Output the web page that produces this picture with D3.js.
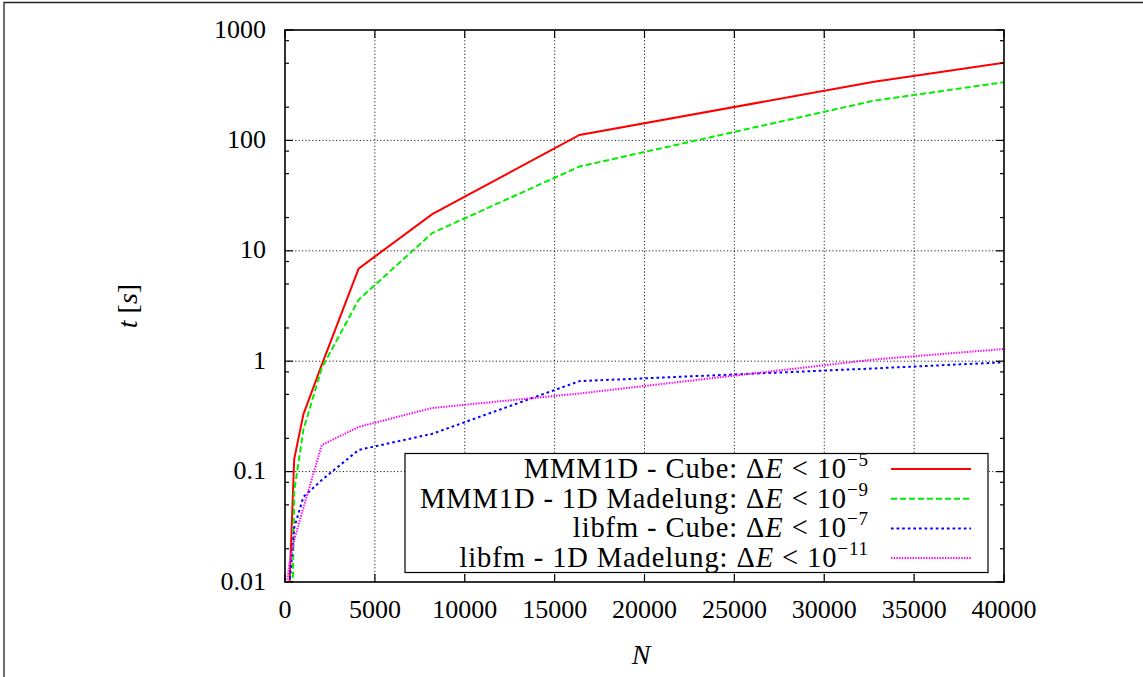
<!DOCTYPE html>
<html>
<head>
<meta charset="utf-8">
<script src="https://cdn.jsdelivr.net/npm/d3@7"></script>
<style>
  html, body { margin: 0; padding: 0; background: #fff; }
  svg { display: block; }
  text { font-family: "Liberation Serif", "Times New Roman", serif; fill: #000; }
</style>
</head>
<body>
<svg id="chart" width="1143" height="677"></svg>
<script>
// ---- data ----
const N = [128, 256, 512, 1024, 2048, 4096, 8192, 16384, 32768, 40000];
const mmmCube      = [null, 0.0098, 0.13, 0.33, 0.93, 6.9, 21.5, 112, 340, 506];
const mmmMadelung  = [null, 0.0001, 0.066, 0.24, 0.87, 3.6, 14.5, 58, 229, 336];
const libfmCube    = [null, 0.0095, 0.031, 0.059, 0.084, 0.157, 0.22, 0.66, 0.86, 0.977];
const libfmMadelung= [0.0105, 0.0149, 0.024, 0.047, 0.174, 0.254, 0.377, 0.51, 1.036, 1.29];

const xTicks = [0, 5000, 10000, 15000, 20000, 25000, 30000, 35000, 40000];
const yTicks = [0.01, 0.1, 1, 10, 100, 1000];
const yTickLabels = ["0.01", "0.1", "1", "10", "100", "1000"];
const yMinorFactors = [2, 5, 8];

const seriesNames = [
  {pre: "MMM1D - Cube: ", exp: "−5"},
  {pre: "MMM1D - 1D Madelung: ", exp: "−9"},
  {pre: "libfm - Cube: ", exp: "−7"},
  {pre: "libfm - 1D Madelung: ", exp: "−11"}
];
const seriesValues = [mmmCube, mmmMadelung, libfmCube, libfmMadelung];
const seriesColors = ["#ff0000", "#00ee00", "#0000ff", "#ff00ff"];
const seriesDash = [null, "6,3", "2.6,3", "1.4,1.3"];

// ---- layout ----
const svg = d3.select("#chart");
const L = 285, R = 1004, T = 30, B = 582;

const x = d3.scaleLinear().domain([0, 40000]).range([L, R]);
const y = d3.scaleLog().domain([0.01, 1000]).range([B, T]);

// outer frame (top & left visible)
svg.append("path").attr("d", `M4,677 L4,2.5 L1143,2.5`)
  .attr("fill", "none").attr("stroke", "#222").attr("stroke-width", 1.3);

// grid
const grid = svg.append("g");
xTicks.filter(v => v > 0 && v < 40000).forEach(v => {
  grid.append("line").attr("x1", x(v)).attr("x2", x(v)).attr("y1", T).attr("y2", B)
    .attr("stroke", "#222").attr("stroke-width", 1).attr("stroke-dasharray", "1.2,2.2");
});
yTicks.filter(v => v > 0.01 && v < 1000).forEach(v => {
  grid.append("line").attr("x1", L).attr("x2", R).attr("y1", y(v)).attr("y2", y(v))
    .attr("stroke", "#222").attr("stroke-width", 1).attr("stroke-dasharray", "1.2,2.2");
});

// clip
svg.append("clipPath").attr("id", "clip").append("rect")
  .attr("x", L).attr("y", T).attr("width", R - L).attr("height", B - T);

// data lines
const lineGen = d3.line()
  .defined(d => d[1] != null)
  .x(d => x(d[0])).y(d => y(d[1]));
const lines = svg.append("g").attr("clip-path", "url(#clip)");
seriesValues.forEach((vals, i) => {
  const pts = N.map((n, j) => [n, vals[j]]);
  const p = lines.append("path").attr("d", lineGen(pts))
    .attr("fill", "none").attr("stroke", seriesColors[i]).attr("stroke-width", 2)
    .attr("stroke-linejoin", "miter");
  if (seriesDash[i]) p.attr("stroke-dasharray", seriesDash[i]);
});

// ticks
const ticks = svg.append("g").attr("stroke", "#000").attr("stroke-width", 1.2);
xTicks.forEach(v => {
  ticks.append("line").attr("x1", x(v)).attr("x2", x(v)).attr("y1", B).attr("y2", B - 8);
  ticks.append("line").attr("x1", x(v)).attr("x2", x(v)).attr("y1", T).attr("y2", T + 8);
});
yTicks.forEach(v => {
  ticks.append("line").attr("x1", L).attr("x2", L + 8).attr("y1", y(v)).attr("y2", y(v));
  ticks.append("line").attr("x1", R).attr("x2", R - 8).attr("y1", y(v)).attr("y2", y(v));
});
yTicks.slice(0, -1).forEach(v => {
  yMinorFactors.forEach(f => {
    const yy = y(v * f);
    ticks.append("line").attr("x1", L).attr("x2", L + 4).attr("y1", yy).attr("y2", yy);
    ticks.append("line").attr("x1", R).attr("x2", R - 4).attr("y1", yy).attr("y2", yy);
  });
});

// frame
svg.append("rect").attr("x", L).attr("y", T).attr("width", R - L).attr("height", B - T)
  .attr("fill", "none").attr("stroke", "#000").attr("stroke-width", 1.6);

// tick labels
xTicks.forEach(v => {
  svg.append("text").attr("x", x(v)).attr("y", B + 36).attr("text-anchor", "middle")
    .attr("font-size", 26).text(v);
});
yTicks.forEach((v, i) => {
  svg.append("text").attr("x", 266).attr("y", y(v) + 7.5).attr("text-anchor", "end")
    .attr("font-size", 26).text(yTickLabels[i]);
});

// axis labels
svg.append("text").attr("x", 641).attr("y", 664).attr("text-anchor", "middle")
  .attr("font-size", 28).attr("font-style", "italic").text("N");
const yl = svg.append("text").attr("transform", "translate(137,306) rotate(-90)")
  .attr("text-anchor", "middle").attr("font-size", 28);
yl.append("tspan").attr("font-style", "italic").text("t");
yl.append("tspan").text(" [");
yl.append("tspan").attr("font-style", "italic").text("s");
yl.append("tspan").text("]");

// legend
const lg = svg.append("g");
lg.append("rect").attr("x", 405).attr("y", 453.5).attr("width", 583).attr("height", 119)
  .attr("fill", "#fff").attr("stroke", "#000").attr("stroke-width", 1.2);
seriesNames.forEach((s, i) => {
  const cy = 469 + i * 29.7;
  const t = lg.append("text").attr("x", 869).attr("y", cy + 9).attr("text-anchor", "end")
    .attr("font-size", 28.5).attr("letter-spacing", 0.9);
  t.append("tspan").text(s.pre + "Δ");
  t.append("tspan").attr("font-style", "italic").text("E");
  t.append("tspan").text(" < 10");
  t.append("tspan").attr("font-size", 19).attr("dy", -12).text(s.exp);
  const ln = lg.append("line").attr("x1", 891).attr("x2", 971).attr("y1", cy).attr("y2", cy)
    .attr("stroke", seriesColors[i]).attr("stroke-width", 2);
  if (seriesDash[i]) ln.attr("stroke-dasharray", seriesDash[i]);
});
</script>
</body>
</html>
